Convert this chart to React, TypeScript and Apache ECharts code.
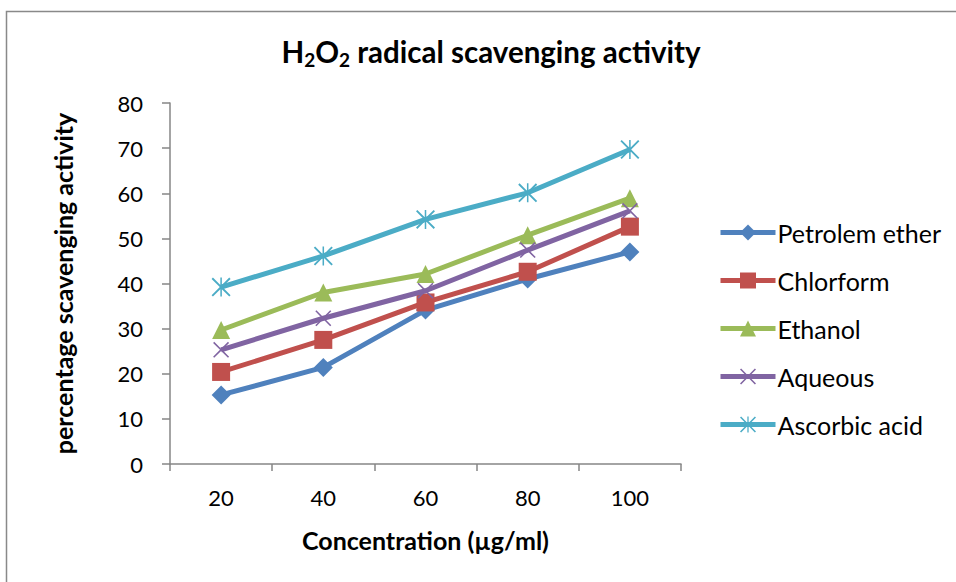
import React, { useEffect, useRef } from "react";
import * as echarts from "echarts";

const categories = ["20", "40", "60", "80", "100"];
const petroleumEther = [15.3, 21.4, 34.1, 41.0, 47.0];
const chloroform = [20.4, 27.5, 35.8, 42.6, 52.6];
const ethanol = [29.7, 38.0, 42.1, 50.7, 58.9];
const aqueous = [25.3, 32.3, 38.4, 47.4, 56.1];
const ascorbicAcid = [39.2, 46.1, 54.2, 60.1, 69.7];
const seriesNames = ["Petrolem ether", "Chlorform", "Ethanol", "Aqueous", "Ascorbic acid"];
const colors = ["#4F81BD", "#C0504D", "#9BBB59", "#8064A2", "#4BACC6"];

const FONT = "Lato, 'Open Sans', sans-serif";

const X_PATH =
  "path://M0,1.4 L1.4,0 L10,8.6 L18.6,0 L20,1.4 L11.4,10 L20,18.6 L18.6,20 L10,11.4 L1.4,20 L0,18.6 L8.6,10 Z";
const STAR_PATH =
  "path://M0,1.4 L1.4,0 L10,8.6 L18.6,0 L20,1.4 L11.4,10 L20,18.6 L18.6,20 L10,11.4 L1.4,20 L0,18.6 L8.6,10 Z M9.2,0 L10.8,0 L10.8,20 L9.2,20 Z";

export default function App() {
  const ref = useRef<HTMLDivElement>(null);
  useEffect(() => {
    if (!ref.current) return;
    const chart = echarts.init(ref.current, undefined, { renderer: "svg" });
    const dataSets = [petroleumEther, chloroform, ethanol, aqueous, ascorbicAcid];
    const symbols = ["diamond", "rect", "triangle", X_PATH, STAR_PATH];
    const sizes = [19, 18, 18, 16, 19];
    chart.setOption({
      animation: false,
      backgroundColor: "#ffffff",
      title: {
        text: "{n|H}{s|2}{n|O}{s|2}{n| radical scavenging activity}",
        left: 486,
        textAlign: "center",
        top: 29,
        textStyle: {
          rich: {
            n: { fontFamily: FONT, fontWeight: "bold", fontSize: 29.5, color: "#000", lineHeight: 35, verticalAlign: "middle" },
            s: { fontFamily: FONT, fontWeight: "bold", fontSize: 19, color: "#000", lineHeight: 19, verticalAlign: "bottom" },
          },
        },
      },
      graphic: [
        {
          type: "rect",
          shape: { x: 6.5, y: 11.5, width: 1000, height: 700 },
          style: { fill: "none", stroke: "#898989", lineWidth: 1.5 },
          silent: true,
        },
      ],
      legend: {
        orient: "vertical",
        left: 713,
        top: 215,
        itemWidth: 55,
        itemHeight: 20,
        itemGap: 23,
        data: seriesNames,
        lineStyle: { width: 5 },
        textStyle: { fontFamily: FONT, fontSize: 25, color: "#000", padding: [0, 0, 0, -3] },
      },
      grid: { left: 170, top: 103, right: 275, bottom: 118, containLabel: false },
      xAxis: {
        type: "category",
        data: categories,
        boundaryGap: true,
        name: "Concentration (µg/ml)",
        nameLocation: "middle",
        nameGap: 63,
        nameTextStyle: { fontFamily: FONT, fontWeight: "bold", fontSize: 25, color: "#000" },
        axisLine: { lineStyle: { color: "#868686", width: 1.5 } },
        axisTick: { show: true, length: 7, lineStyle: { color: "#868686", width: 1.5 } },
        axisLabel: { fontFamily: FONT, fontSize: 22, color: "#000", margin: 22 },
        splitLine: { show: false },
      },
      yAxis: {
        type: "value",
        min: 0,
        max: 80,
        interval: 10,
        name: "percentage scavenging activity",
        nameLocation: "middle",
        nameGap: 95,
        nameTextStyle: { fontFamily: FONT, fontWeight: "bold", fontSize: 25, color: "#000" },
        axisLine: { show: true, lineStyle: { color: "#868686", width: 1.5 } },
        axisTick: { show: true, length: 8, lineStyle: { color: "#868686", width: 1.5 } },
        axisLabel: { fontFamily: FONT, fontSize: 22, color: "#000", margin: 27 },
        splitLine: { show: false },
      },
      series: seriesNames.map((name, i) => ({
        name,
        type: "line",
        data: dataSets[i],
        symbol: symbols[i],
        symbolSize: sizes[i],
        showAllSymbol: true,
        color: colors[i],
        lineStyle: { width: 5, color: colors[i] },
        itemStyle: { color: colors[i] },
        z: 2 + i,
      })),
    });
    return () => chart.dispose();
  }, []);
  return (
    <div
      ref={ref}
      style={{ position: "fixed", left: 0, top: 0, width: 956, height: 582 }}
    />
  );
}
